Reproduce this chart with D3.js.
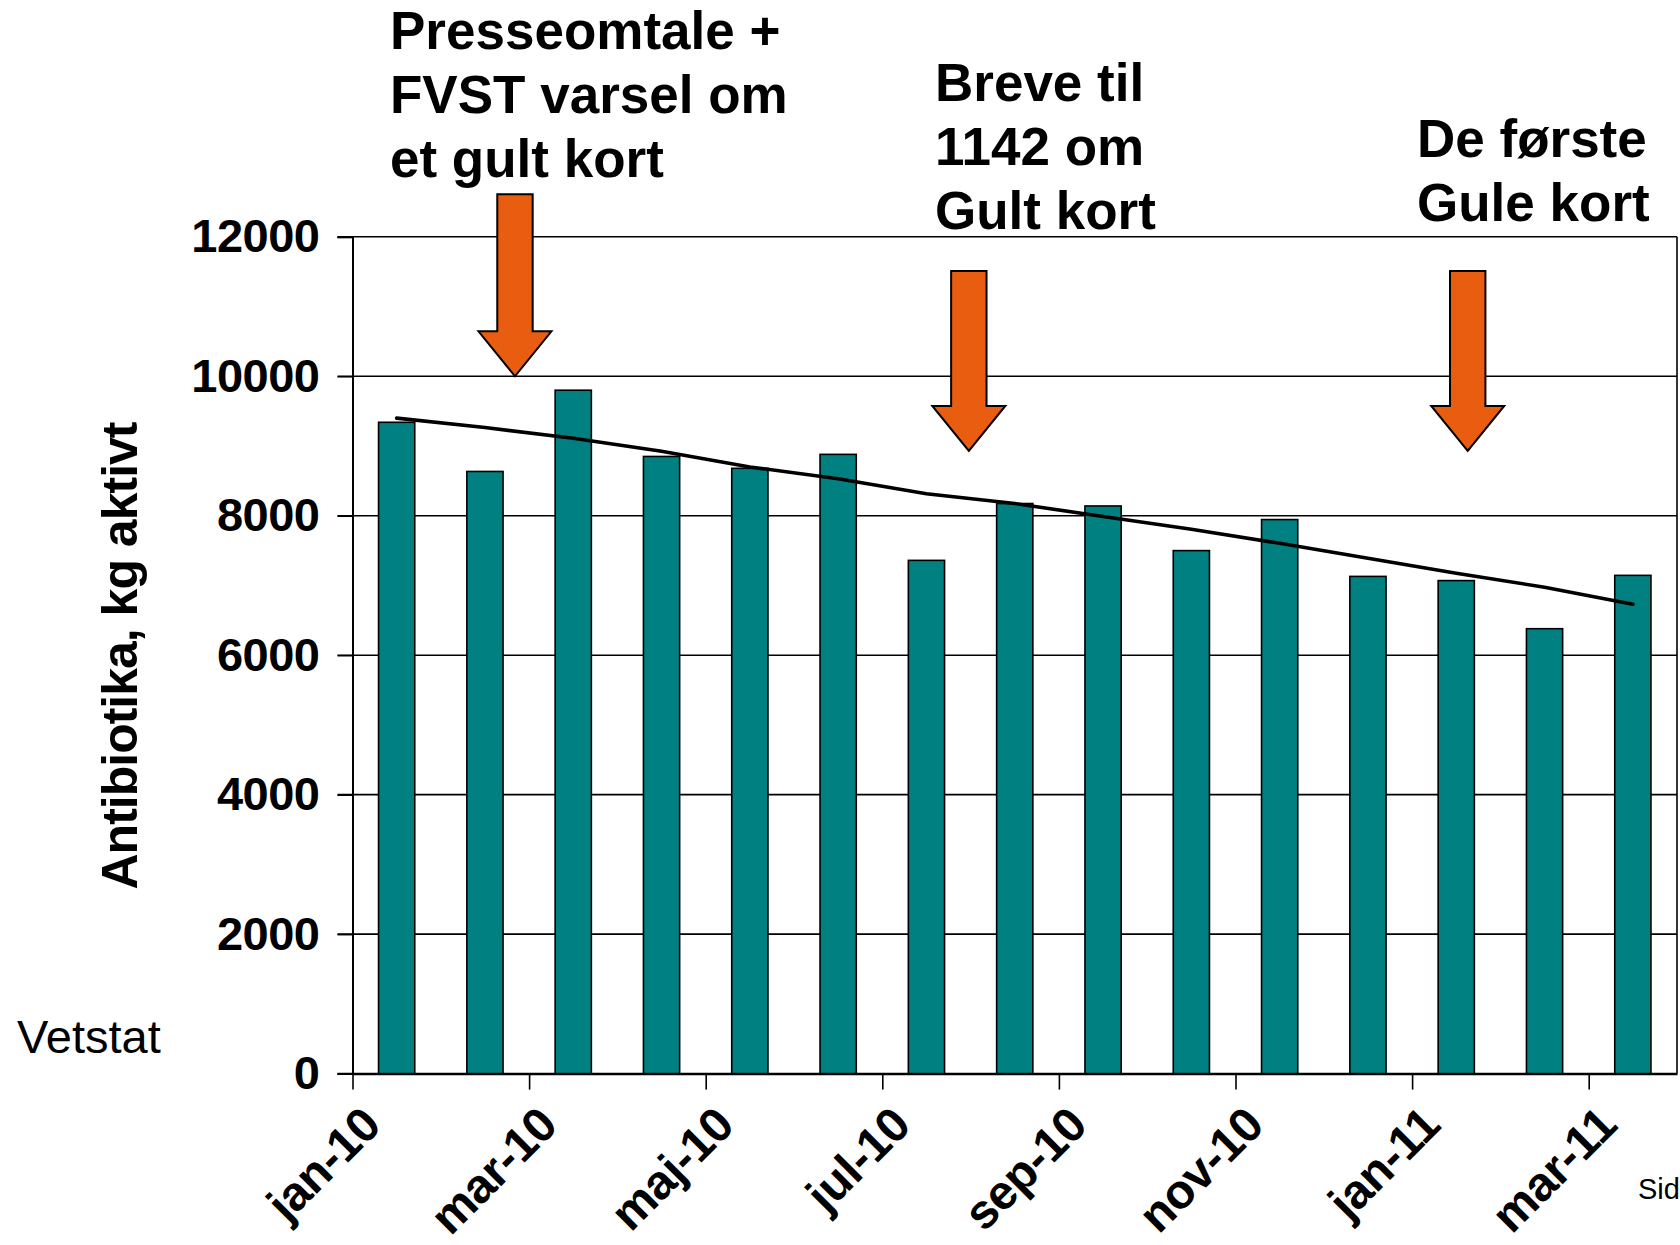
<!DOCTYPE html>
<html>
<head>
<meta charset="utf-8">
<script src="https://cdn.jsdelivr.net/npm/d3@7"></script>
<style>
  body { margin: 0; background: #fff; }
  svg { display: block; font-family: "Liberation Sans", Arial, sans-serif; }
</style>
</head>
<body>
<svg id="chart" width="1680" height="1245"></svg>
<script>
// months shown as bars (jan-10 .. mar-11)
const months = ["jan-10","feb-10","mar-10","apr-10","maj-10","jun-10","jul-10","aug-10",
  "sep-10","okt-10","nov-10","dec-10","jan-11","feb-11","mar-11"];
// antibiotika, kg aktivt per month
const values = [9340, 8635, 9800, 8850, 8680, 8880, 7360, 8175, 8140, 7500, 7945, 7130, 7070, 6380, 7145];
// trend line read at each month
const trend = [9400, 9265, 9110, 8925, 8700, 8530, 8315, 8175, 7990, 7805, 7605, 7390, 7175, 6975, 6730];
const yTicks = [0, 2000, 4000, 6000, 8000, 10000, 12000];
const xTickIdx = [0, 2, 4, 6, 8, 10, 12, 14];

// annotations: position in months, arrow top / tip in kg
const notes = [
  { lines: ["Presseomtale +", "FVST varsel om", "et gult kort"], at: 1.84, top: 12610, tip: 10000 },
  { lines: ["Breve til", "1142 om", "Gult kort"], at: 6.98, top: 11510, tip: 8930 },
  { lines: ["De første", "Gule kort"], at: 12.63, top: 11510, tip: 8930 }
];
const noteText = [
  { x: 390, y: 49 },
  { x: 935, y: 101 },
  { x: 1417, y: 157 }
];

const svg = d3.select("#chart");
const plotL = 352.5, plotR = 1677, plotT = 236.8, plotB = 1073.6;

const x = d3.scaleLinear().domain([0, months.length]).range([plotL, plotR]);
const xBand = d3.scaleBand().domain(months).range([plotL, plotR])
  .paddingInner(0.59).paddingOuter(0.295);
const y = d3.scaleLinear().domain([0, 12000]).range([plotB, plotT]);

// gridlines
svg.append("g")
  .selectAll("line")
  .data(yTicks)
  .enter()
  .append("line")
  .attr("x1", plotL - 15)
  .attr("x2", plotR)
  .attr("y1", d => y(d))
  .attr("y2", d => y(d))
  .attr("stroke", "#000")
  .attr("stroke-width", 1.6);

// right border of plot
svg.append("line")
  .attr("x1", plotR).attr("x2", plotR)
  .attr("y1", plotT).attr("y2", plotB)
  .attr("stroke", "#000").attr("stroke-width", 1.6);

// bars
svg.append("g")
  .selectAll(".bar")
  .data(values)
  .enter()
  .append("rect")
  .classed("bar", true)
  .attr("x", (d, i) => xBand(months[i]))
  .attr("width", xBand.bandwidth())
  .attr("y", d => y(d))
  .attr("height", d => plotB - y(d))
  .attr("fill", "#008080")
  .attr("stroke", "#000")
  .attr("stroke-width", 1.6);

// trend line
svg.append("path")
  .datum(trend)
  .attr("fill", "none")
  .attr("stroke", "#000")
  .attr("stroke-width", 3.6)
  .attr("stroke-linecap", "round")
  .attr("d", d3.line()
    .x((d, i) => x(i + 0.5))
    .y(d => y(d)));

// y axis
const yAxis = d3.axisLeft(y).tickValues(yTicks).tickSize(15).tickPadding(18).tickFormat(d3.format("d"));
const gy = svg.append("g")
  .attr("transform", `translate(${plotL},0)`)
  .call(yAxis);
gy.select(".domain").attr("stroke-width", 2);
gy.selectAll(".tick line").attr("stroke-width", 1.6);
gy.selectAll("text")
  .attr("font-size", 47)
  .attr("font-weight", "bold")
  .attr("letter-spacing", -0.5)
  .attr("fill", "#000")
  .attr("font-family", "Liberation Sans, Arial, sans-serif");

// x axis
const xAxis = d3.axisBottom(x).tickValues(xTickIdx).tickSize(16).tickSizeOuter(0)
  .tickFormat(i => months[i]);
const gx = svg.append("g")
  .attr("transform", `translate(0,${plotB})`)
  .call(xAxis);
gx.select(".domain").attr("stroke-width", 2.4);
gx.selectAll(".tick line").attr("stroke-width", 1.6);
gx.selectAll("text")
  .attr("x", 0).attr("y", 0).attr("dy", 0)
  .attr("text-anchor", "end")
  .attr("transform", "translate(30,54) rotate(-45)")
  .attr("font-size", 48)
  .attr("font-weight", "bold")
  .attr("letter-spacing", -0.5)
  .attr("fill", "#000")
  .attr("font-family", "Liberation Sans, Arial, sans-serif");

// y axis title
svg.append("text")
  .attr("transform", "translate(137,656) rotate(-90)")
  .attr("text-anchor", "middle")
  .attr("font-size", 50)
  .attr("font-weight", "bold")
  .attr("letter-spacing", -1)
  .text("Antibiotika, kg aktivt");

// arrows
const shaftW = 17.7, headW = 36.5, headL = 45;
notes.forEach(n => {
  const cx = x(n.at), yt = y(n.top), yp = y(n.tip), yb = yp - headL;
  const pts = [[cx - shaftW, yt], [cx + shaftW, yt], [cx + shaftW, yb], [cx + headW, yb],
    [cx, yp], [cx - headW, yb], [cx - shaftW, yb]];
  svg.append("polygon")
    .attr("points", pts.map(p => p.join(",")).join(" "))
    .attr("fill", "#E85D0F")
    .attr("stroke", "#000")
    .attr("stroke-width", 2);
});

// annotation text
notes.forEach((n, k) => {
  const t = svg.append("text")
    .attr("x", noteText[k].x)
    .attr("y", noteText[k].y)
    .attr("font-size", 53)
    .attr("font-weight", "bold");
  n.lines.forEach((l, j) => {
    t.append("tspan").attr("x", noteText[k].x).attr("dy", j === 0 ? 0 : 64).text(l);
  });
});

svg.append("text")
  .attr("x", 17).attr("y", 1053)
  .attr("font-size", 47)
  .text("Vetstat");

svg.append("text")
  .attr("x", 1638).attr("y", 1199)
  .attr("font-size", 29)
  .text("Sid");
</script>
</body>
</html>
